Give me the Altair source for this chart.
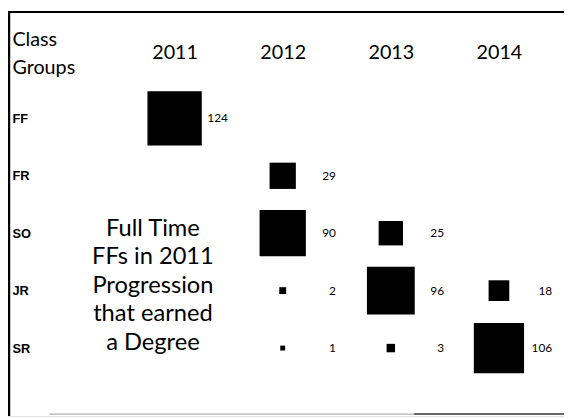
import altair as alt
import pandas as pd

classes = ["FF", "FR", "SO", "JR", "SR"]
years = ["2011", "2012", "2013", "2014"]

cell_class = ["FF", "FR", "SO", "SO", "JR", "JR", "JR", "SR", "SR", "SR"]
cell_year = ["2011", "2012", "2012", "2013", "2012", "2013", "2014", "2012", "2013", "2014"]
cell_value = [124, 29, 90, 25, 2, 96, 18, 1, 3, 106]

annotation = "Full Time\nFFs in 2011\nProgression\nthat earned\na Degree"

W, H = 564, 411

df = pd.DataFrame({"cls": cell_class, "year": cell_year, "value": cell_value})

x = alt.X(
    "year:O",
    scale=alt.Scale(type="point", domain=years, range=[169, 498], padding=0),
    axis=alt.Axis(orient="top", domain=False, ticks=False, grid=False,
                  labelFont="Lato", labelFontSize=20, labelColor="black",
                  labelAngle=0, labelPadding=0, offset=-48,
                  labelBaseline="alphabetic", title=None),
)
y = alt.Y(
    "cls:O",
    scale=alt.Scale(type="point", domain=classes, range=[109, 342], padding=0),
    axis=alt.Axis(orient="left", domain=False, ticks=False, grid=False,
                  labelFont="Liberation Sans", labelFontWeight="bold",
                  labelFontSize=13, labelColor="black", labelAlign="left",
                  labelPadding=0, offset=-4, labelBaseline="middle",
                  title=["Class", "Groups"], titleAngle=0, titleAlign="left",
                  titleBaseline="alphabetic", titleX=0, titleY=35,
                  titleFont="Lato", titleFontSize=20, titleFontWeight="normal",
                  titleColor="black", titleLineHeight=28),
)

base = alt.Chart(df)

squares = base.mark_square(color="black", opacity=1, filled=True).encode(
    x=x, y=y,
    size=alt.Size("value:Q", scale=alt.Scale(domain=[0, 124], range=[0, 3038]), legend=None),
)

labels = base.mark_text(align="right", baseline="middle", dx=54, font="Lato",
                        fontSize=12, color="black").encode(
    x=x, y=y, text="value:Q",
)

one = pd.DataFrame({"k": [0]})
note = alt.Chart(pd.DataFrame({"t": [annotation]})).mark_text(
    lineBreak="\n", align="center", baseline="alphabetic", font="Lato",
    fontSize=24, lineHeight=29, color="black",
).encode(text="t:N", x=alt.value(147), y=alt.value(228))

left_line = alt.Chart(one).mark_rule(color="black", strokeWidth=2.5).encode(
    x=alt.value(1), y=alt.value(0), y2=alt.value(H))
top_line = alt.Chart(one).mark_rule(color="black", strokeWidth=2).encode(
    y=alt.value(1), x=alt.value(0), x2=alt.value(W))
bottom_gray = alt.Chart(one).mark_rule(color="#9a9a9a", strokeWidth=1).encode(
    y=alt.value(H - 2), x=alt.value(42), x2=alt.value(412))
bottom_dark = alt.Chart(one).mark_rule(color="#333333", strokeWidth=1.5).encode(
    y=alt.value(H - 2), x=alt.value(412), x2=alt.value(W))

chart = alt.layer(
    squares, labels, note, left_line, top_line, bottom_gray, bottom_dark
).properties(
    width=W, height=H, padding=0,
    autosize=alt.AutoSizeParams(type="none"),
).configure_view(stroke=None).configure(background="white")

chart.save("out.html", embed_options={"renderer": "svg", "actions": False})
